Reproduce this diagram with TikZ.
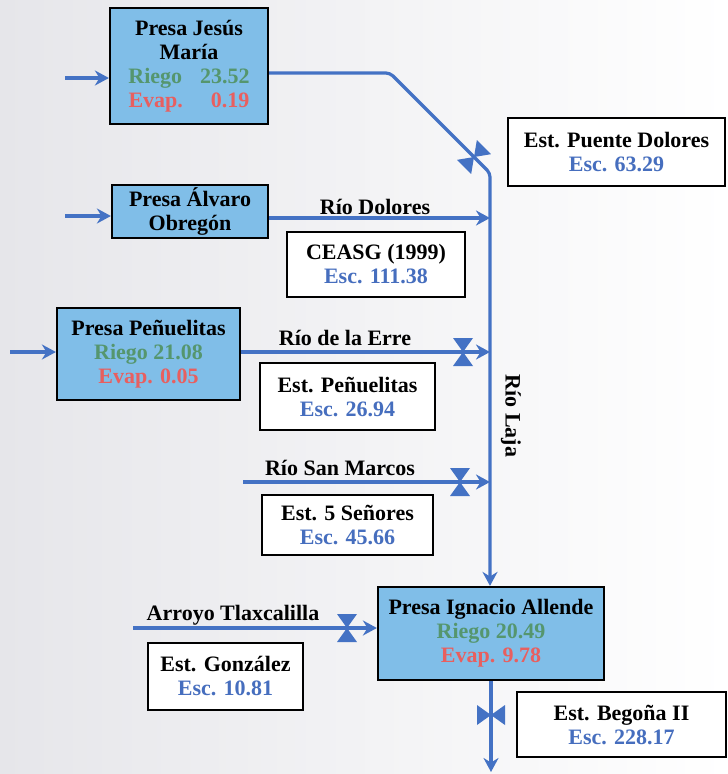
\documentclass[tikz,border=0pt]{standalone}
\usepackage{fontspec}
\setmainfont{Liberation Serif}
\usetikzlibrary{arrows.meta}
\definecolor{riv}{RGB}{68,114,196}
\definecolor{esc}{RGB}{70,110,190}
\definecolor{rgo}{RGB}{85,150,110}
\definecolor{evp}{RGB}{232,95,95}
\definecolor{wat}{RGB}{128,190,232}
\definecolor{bgl}{RGB}{230,230,234}
\begin{document}
\begin{tikzpicture}[x=1pt,y=-1pt,
 every node/.style={font=\bfseries\fontsize{22}{24}\selectfont},
 presa/.style={draw=black,line width=2.2pt,fill=wat,inner sep=0pt,align=center},
 estbox/.style={draw=black,line width=2.2pt,fill=white,inner sep=0pt,align=center},
 river/.style={draw=riv,line width=3.2pt},
 flow/.style={river,-{Stealth[length=14pt,width=15pt]}},
 rlabel/.style={inner sep=0pt},
 valve/.pic={\fill[riv] (-10,-14)--(10,-14)--(0,0)--cycle (-10,14)--(10,14)--(0,0)--cycle;}
]
\useasboundingbox (0,0) rectangle (728,774);
\shade[left color=bgl,right color=white] (0,0) rectangle (728,774);

% dams
\node[presa,minimum width=158pt,minimum height=116pt] (jm) at (189,66)
 {Presa Jesús\\María\\\textcolor{rgo}{Riego\hspace{18pt}23.52}\\\textcolor{evp}{Evap.\hspace{28pt}0.19}};
\node[presa,minimum width=156pt,minimum height=53pt] (ao) at (190,211.5)
 {Presa Álvaro\\Obregón};
\node[presa,minimum width=183pt,minimum height=92pt] (pe) at (148.5,354)
 {Presa Peñuelitas\\\textcolor{rgo}{Riego 21.08}\\\textcolor{evp}{Evap. 0.05}};
\node[presa,minimum width=226pt,minimum height=93pt] (ia) at (491,633.5)
 {Presa Ignacio Allende\\\textcolor{rgo}{Riego 20.49}\\\textcolor{evp}{Evap. 9.78}};

% gauging stations
\node[estbox,minimum width=217pt,minimum height=68pt] (epd) at (616.5,152)
 {Est. Puente Dolores\\\textcolor{esc}{Esc. 63.29}};
\node[estbox,minimum width=178pt,minimum height=65pt] (ceasg) at (376,264.5)
 {CEASG (1999)\\\textcolor{esc}{Esc. 111.38}};
\node[estbox,minimum width=175pt,minimum height=67pt] (epen) at (347.5,396.5)
 {Est. Peñuelitas\\\textcolor{esc}{Esc. 26.94}};
\node[estbox,minimum width=171pt,minimum height=60pt] (e5s) at (347.5,525)
 {Est. 5 Señores\\\textcolor{esc}{Esc. 45.66}};
\node[estbox,minimum width=155pt,minimum height=67pt] (egon) at (225.5,676.5)
 {Est. González\\\textcolor{esc}{Esc. 10.81}};
\node[estbox,minimum width=209pt,minimum height=65pt] (ebeg) at (621.5,724.5)
 {Est. Begoña II\\\textcolor{esc}{Esc. 228.17}};

% river labels
\node[rlabel] (ldol) at (375,207) {Río Dolores};
\node[rlabel] (lerre) at (345,338) {Río de la Erre};
\node[rlabel] (lsm) at (340,468) {Río San Marcos};
\node[rlabel] (larr) at (233,615) {Arroyo Tlaxcalilla};
\node[rlabel,rotate=-90] (laja) at (511,416) {Río Laja};

% coordinates
\coordinate (i1) at (65,78);
\coordinate (i2) at (65,216);
\coordinate (i3) at (10,352);
\coordinate (c1) at (390,73);
\coordinate (c2) at (490,173);
\coordinate (jd) at (490,218);
\coordinate (je) at (490,352);
\coordinate (sm0) at (243,482);
\coordinate (js) at (490,482);
\coordinate (ar0) at (133,628);
\coordinate (out) at (491,772);

% inflows
\draw[flow] (i1) -- (i1 -| jm.west);
\draw[flow] (i2) -- (i2 -| ao.west);
\draw[flow] (i3) -- (i3 -| pe.west);

% Rio Laja main stem
\draw[flow,rounded corners=4pt] (c1 -| jm.east) -- (c1) -- (c2) -- (ia.north -| c2);
% tributaries
\draw[flow] (jd -| ao.east) -- (jd);
\draw[flow] (je -| pe.east) -- (je);
\draw[flow] (sm0) -- (js);
\draw[flow] (ar0) -- (ar0 -| ia.west);
\draw[flow] (ia.south -| out) -- (out);

% valves
\pic[rotate=-45] at (474,157) {valve};
\pic at (463,352) {valve};
\pic at (460,482) {valve};
\pic at (347,628) {valve};
\pic[rotate=90] at (491,715) {valve};
\end{tikzpicture}
\end{document}
